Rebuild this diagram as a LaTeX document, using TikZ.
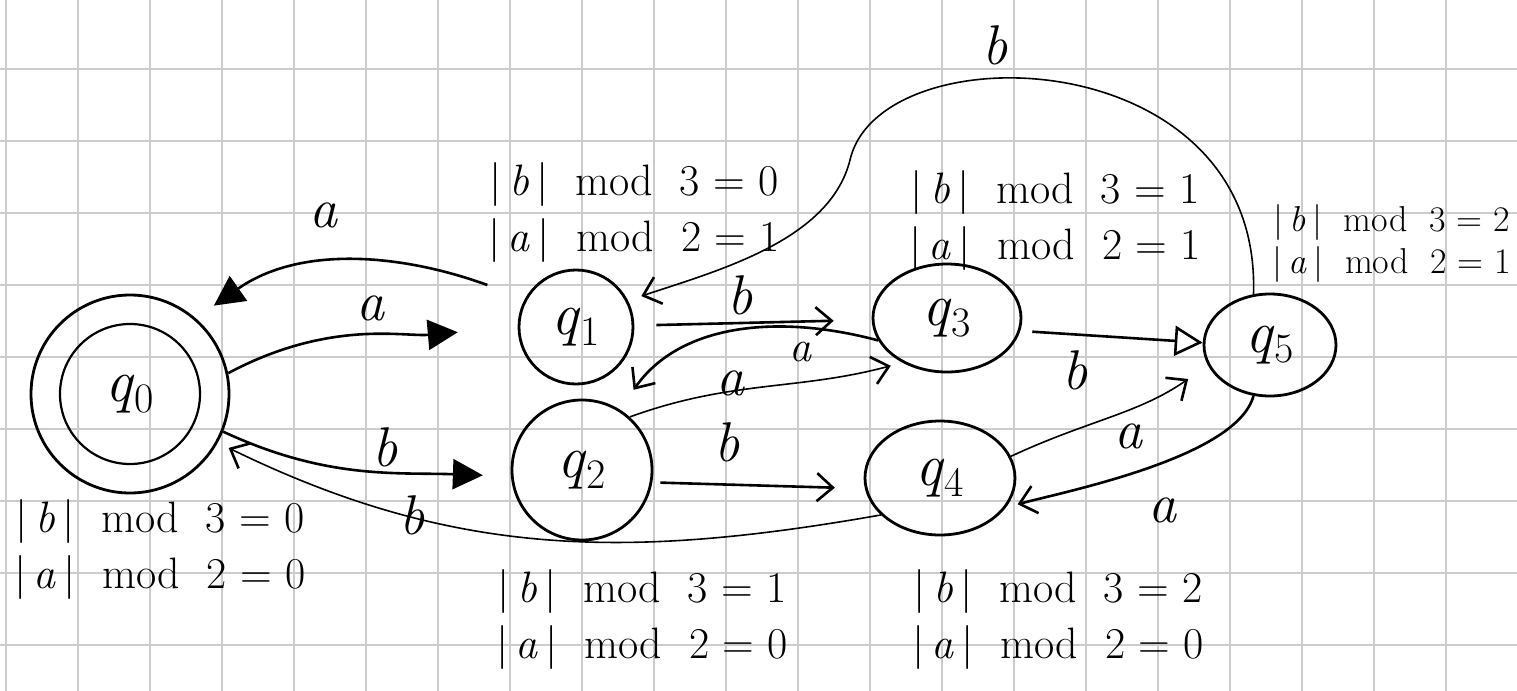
\documentclass[tikz,border=0pt]{standalone}
\usepackage{fontspec}
\usetikzlibrary{arrows.meta,shapes.geometric}

\newcommand{\modline}[3]{|\,\textit{#1}\,|\ \ mod\ \ #2 = #3}
\newcommand{\qname}[1]{\textit{q}\textsubscript{#1}}

\begin{document}
\begin{tikzpicture}[x=0.5pt, y=-0.5pt,
    gridline/.style={gray!40, line width=1pt},
    state/.style={draw, circle, line width=1.4pt, inner sep=0pt, font=\fontsize{30}{30}\selectfont},
    oval/.style={state, ellipse},
    trans/.style={line width=1.3pt},
    thin trans/.style={line width=0.8pt},
    barb/.style={-{Straight Barb[length=8pt, width=14pt, line width=1.3pt]}},
    fat tip/.style={-{Triangle[length=15pt, width=15pt]}},
    hollow tip/.style={-{Triangle[open, length=14pt, width=15pt, line width=1.3pt]}},
    lbl/.style={font=\fontsize{28}{28}\selectfont\itshape},
    info/.style={align=center, font=\fontsize{22}{28}\selectfont}]

    \useasboundingbox[fill=white] (0,0) rectangle (1517,691);
    \foreach \gx in {6,78,...,1518}
        \draw[gridline] (\gx,0) -- (\gx,691);
    \foreach \gy in {69,141,...,645}
        \draw[gridline] (0,\gy) -- (1517,\gy);

    \node[state, minimum size=99pt] (q0) at (130,394) {\qname{0}};
    \draw[line width=1.1pt] (q0) circle[radius=35pt];
    \node[state, minimum size=57pt] (q1) at (576,327) {\qname{1}};
    \node[state, minimum size=70pt] (q2) at (582,470) {\qname{2}};
    \node[oval, minimum width=74pt, minimum height=54pt] (q3) at (947,318) {\qname{3}};
    \node[oval, minimum width=75pt, minimum height=57pt] (q4) at (940,478) {\qname{4}};
    \node[oval, minimum width=66pt, minimum height=51pt] (q5) at (1270,345) {\qname{5}};

    \draw[trans, fat tip, shorten >=30pt] (q0.12) to[out=28, in=185] (q1.180);
    \draw[trans, fat tip, shorten <=20pt, shorten >=11pt] (q1.151) to[out=160, in=35] (q0.49);
    \draw[trans, fat tip, shorten >=14pt] (q0.-22) to[out=-25, in=178] (q2.185);
    \draw[thin trans, barb, shorten >=6pt] (q4.212) to[out=190, in=-26] (q0.-29);
    \draw[trans, barb, shorten <=11pt, shorten >=19pt] (q1) -- (q3);
    \draw[trans, barb, shorten >=12pt] (q3.198) to[out=165, in=55] (q2.58);
    \draw[thin trans, barb, shorten >=6pt] (q2.48) to[out=20, in=195] (q3.225);
    \draw[trans, barb, shorten <=4pt, shorten >=15pt] (q2.-10) -- (q4.188);
    \draw[trans, hollow tip, shorten <=6pt] (q3.-10) -- (q5.178);
    \draw[thin trans, barb, shorten >=12pt] (q4.17) to[out=25, in=215] (q5.198);
    \draw[trans, barb, shorten >=6pt] (q5.252) to[out=255, in=15, looseness=0.6] (q4.-24);
    \draw[thin trans, barb, shorten >=7pt] (q5.108) .. controls (1262,40) and (880,30) .. (850,160)
        .. controls (830,240) and (720,270) .. (q1.27);

    \foreach \lx/\ly/\lt/\ln in {323/215/a/la10, 370/308/a/la01, 385/447/b/lb02, 412/515/b/lb40,
                                 740/295/b/lb13, 730/383/a/la23, 727/442/b/lb24, 1075/370/b/lb35,
                                 1128/436/a/la45, 1162/510/a/la54, 995/45/b/lb51}
        \node[lbl] (\ln) at (\lx,\ly) {\lt};
    \node[lbl, font=\fontsize{22}{22}\selectfont\itshape] (la32) at (800,352) {a};

    \node[info] (m0) at (160,549) {\modline{b}{3}{0}\\\modline{a}{2}{0}};
    \node[info] (m1) at (634,212) {\modline{b}{3}{0}\\\modline{a}{2}{1}};
    \node[info] (m2) at (642,619) {\modline{b}{3}{1}\\\modline{a}{2}{0}};
    \node[info] (m3) at (1055,220) {\modline{b}{3}{1}\\\modline{a}{2}{1}};
    \node[info] (m4) at (1058,619) {\modline{b}{3}{2}\\\modline{a}{2}{0}};
    \node[info, font=\fontsize{18}{21}\selectfont] (m5) at (1392,243) {\modline{b}{3}{2}\\\modline{a}{2}{1}};
\end{tikzpicture}
\end{document}
